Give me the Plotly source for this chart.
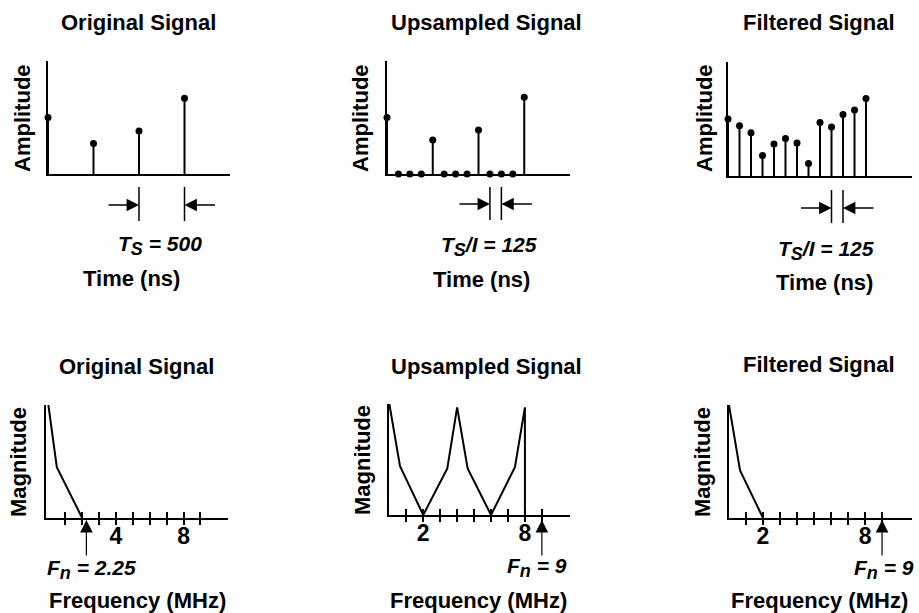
import plotly.graph_objects as go

# ---------------- data ----------------
t_orig = [0, 500, 1000, 1500]
a_orig = [0.50, 0.27, 0.38, 0.67]

t_up = [0, 125, 250, 375, 500, 625, 750, 875, 1000, 1125, 1250, 1375, 1500]
a_up = [0.50, 0, 0, 0, 0.30, 0, 0, 0, 0.39, 0, 0, 0, 0.68]

t_filt = [0, 125, 250, 375, 500, 625, 750, 875, 1000, 1125, 1250, 1375, 1500]
a_filt = [0.50, 0.44, 0.38, 0.18, 0.28, 0.33, 0.29, 0.11, 0.47, 0.43, 0.54, 0.58, 0.68]

f_orig = [0, 0.5, 2.0]
m_orig = [1.0, 0.45, 0.0]

f_up = [0, 0.63, 2.0, 3.42, 4.0, 4.62, 6.0, 7.41, 8.0, 8.0]
m_up = [1.0, 0.44, 0.0, 0.42, 0.97, 0.42, 0.0, 0.43, 0.97, 0.0]

f_filt = [0, 0.65, 2.0]
m_filt = [1.0, 0.42, 0.0]

freq_ticks = [1, 2, 3, 4, 5, 6, 7, 8, 9]
tick_text_orig = ["", "", "", "4", "", "", "", "8", ""]
tick_text_up = ["", "2", "", "", "", "", "", "8", ""]
tick_text_filt = ["", "2", "", "", "", "", "", "8", ""]

fn_orig, fn_up, fn_filt = 2.25, 9, 9
ts_orig = [1000, 1500]
ts_up = [1125, 1250]
ts_filt = [1125, 1250]

titles = ["Original Signal", "Upsampled Signal", "Filtered Signal"]

# ---------------- layout helpers ----------------
W, H = 919, 613
def px(x): return x / W
def py(y): return 1 - y / H

FONT = "Liberation Sans, Arial, Helvetica, sans-serif"
BLACK = "#000000"

fig = go.Figure()

# panel boxes in pixels: (x0, x1, ytop, ybottom, xrange)
panels = [
    (48, 230, 61, 174, [0, 2000]),
    (387, 570, 61, 174, [0, 2000]),
    (728, 912, 62, 176, [0, 2000]),
    (46, 228, 405, 518, [-0.14, 10.63]),
    (389, 570, 404, 515, [-0.02, 10.66]),
    (729, 912, 405, 518, [0, 10.76]),
]

layout = {}
for i, (x0, x1, yt, yb, xr) in enumerate(panels, start=1):
    sx = "" if i == 1 else str(i)
    layout["xaxis" + sx] = dict(domain=[px(x0), px(x1)], range=xr, anchor="y" + sx,
                                showline=True, linewidth=2, linecolor=BLACK, showgrid=False,
                                zeroline=False, showticklabels=False, ticks="", fixedrange=True)
    layout["yaxis" + sx] = dict(domain=[py(yb), py(yt)], range=[0, 1], anchor="x" + sx,
                                showline=True, linewidth=2, linecolor=BLACK, showgrid=False,
                                zeroline=False, showticklabels=False, ticks="", fixedrange=True)

# bottom axes: inside ticks with labels
for i, tt in zip([4, 5, 6], [tick_text_orig, tick_text_up, tick_text_filt]):
    layout["xaxis%d" % i].update(ticks="inside", ticklen=6, tickwidth=1.5, tickcolor=BLACK,
                                 tickvals=freq_ticks, ticktext=tt, showticklabels=True,
                                 ticklabelstandoff=-4,
                                 tickfont=dict(family=FONT, size=23, color=BLACK, weight="bold"))
# overlay axes for outside ticks (ticks cross the axis line)
for j, i in zip([7, 8, 9], [4, 5, 6]):
    x0, x1, yt, yb, xr = panels[i - 1]
    layout["xaxis%d" % j] = dict(domain=[px(x0), px(x1)], range=xr, anchor="y%d" % i,
                                 overlaying="x%d" % i, showline=False, showgrid=False,
                                 zeroline=False, showticklabels=False, ticks="outside",
                                 ticklen=6, tickwidth=1.5, tickcolor=BLACK, tickvals=freq_ticks,
                                 fixedrange=True)

# ---------------- stem plots ----------------
for i, (t, a) in enumerate([(t_orig, a_orig), (t_up, a_up), (t_filt, a_filt)], start=1):
    sx = "" if i == 1 else str(i)
    fig.add_trace(go.Scatter(
        x=t, y=a, mode="markers", xaxis="x" + sx, yaxis="y" + sx,
        marker=dict(size=7, color=BLACK),
        error_y=dict(type="data", symmetric=False, array=[0] * len(a), arrayminus=a,
                     width=0, thickness=2, color=BLACK),
        cliponaxis=False, showlegend=False, hoverinfo="skip"))

# ---------------- spectra ----------------
for i, (f, m) in zip([4, 5, 6], [(f_orig, m_orig), (f_up, m_up), (f_filt, m_filt)]):
    fig.add_trace(go.Scatter(
        x=f, y=m, mode="lines", xaxis="x%d" % i, yaxis="y%d" % i,
        line=dict(color=BLACK, width=2), cliponaxis=False, showlegend=False, hoverinfo="skip"))
# dummy traces so overlay axes render
for j, i in zip([7, 8, 9], [4, 5, 6]):
    fig.add_trace(go.Scatter(x=[None], y=[None], xaxis="x%d" % j, yaxis="y%d" % i,
                             showlegend=False, hoverinfo="skip"))

annotations = []
shapes = []

def text(x, y, s, size=22, italic=False, angle=0):
    s2 = "<i>%s</i>" % s if italic else s
    annotations.append(dict(x=px(x), y=py(y), xref="paper", yref="paper", text=s2,
                            showarrow=False, textangle=angle, xanchor="center", yanchor="middle",
                            font=dict(family=FONT, size=size, color=BLACK, weight="bold")))

def sub(s):
    return "<sub><span style='font-size:18px'>%s</span></sub>" % s

# titles
text(138, 22, titles[0]); text(486, 22, titles[1]); text(819, 22, titles[2])
text(136, 366, titles[0]); text(486, 366, titles[1]); text(819, 365, titles[2])
# y titles
for xc in [22, 360, 704]:
    text(xc, 118, "Amplitude", angle=-90)
for xc, yc in [(18, 462), (362, 460), (702, 462)]:
    text(xc, yc, "Magnitude", angle=-90)
# x titles
text(131, 278, "Time (ns)"); text(481, 280, "Time (ns)"); text(824, 282, "Time (ns)")
text(137, 600, "Frequency (MHz)"); text(479, 600, "Frequency (MHz)"); text(819, 600, "Frequency (MHz)")
# sample-period labels
text(160, 245, "T" + sub("S") + " = 500", size=21, italic=True)
text(489, 247, "T" + sub("S") + "/I = 125", size=21, italic=True)
text(826, 250, "T" + sub("S") + "/I = 125", size=21, italic=True)
# Nyquist labels
text(91, 569, "F" + sub("n") + " = 2.25", size=21, italic=True)
text(537, 567, "F" + sub("n") + " = 9", size=21, italic=True)
text(884, 569, "F" + sub("n") + " = 9", size=21, italic=True)

# sample-period dimension markers
for ax_name, ts, ytop, ybot, yarr in [("x", ts_orig, 187, 221, 205),
                                      ("x2", ts_up, 187, 220, 204),
                                      ("x3", ts_filt, 190, 223, 208)]:
    for tv in ts:
        shapes.append(dict(type="line", xref=ax_name, yref="paper", x0=tv, x1=tv,
                           y0=py(ytop), y1=py(ybot), line=dict(color=BLACK, width=1.5)))
    annotations.append(dict(x=ts[0], y=py(yarr), xref=ax_name, yref="paper", text="",
                            showarrow=True, ax=-32, ay=0, arrowhead=2, arrowsize=1.9,
                            arrowwidth=1.3, arrowcolor=BLACK, standoff=0))
    annotations.append(dict(x=ts[1], y=py(yarr), xref=ax_name, yref="paper", text="",
                            showarrow=True, ax=32, ay=0, arrowhead=2, arrowsize=1.9,
                            arrowwidth=1.3, arrowcolor=BLACK, standoff=0))

# Nyquist arrows
for ax_name, fn in [("x4", fn_orig), ("x5", fn_up), ("x6", fn_filt)]:
    annotations.append(dict(x=fn, y=py(520), xref=ax_name, yref="paper", text="",
                            showarrow=True, ax=0, ay=37, arrowhead=2, arrowsize=2.1,
                            arrowwidth=1.2, arrowcolor=BLACK, standoff=0))

fig.update_layout(width=W, height=H, margin=dict(l=0, r=0, t=0, b=0),
                  paper_bgcolor="white", plot_bgcolor="white",
                  annotations=annotations, shapes=shapes, showlegend=False, **layout)

fig.write_html("out.html", config={"displayModeBar": False},
               post_script="document.body.style.margin='0';document.body.style.padding='0';")
